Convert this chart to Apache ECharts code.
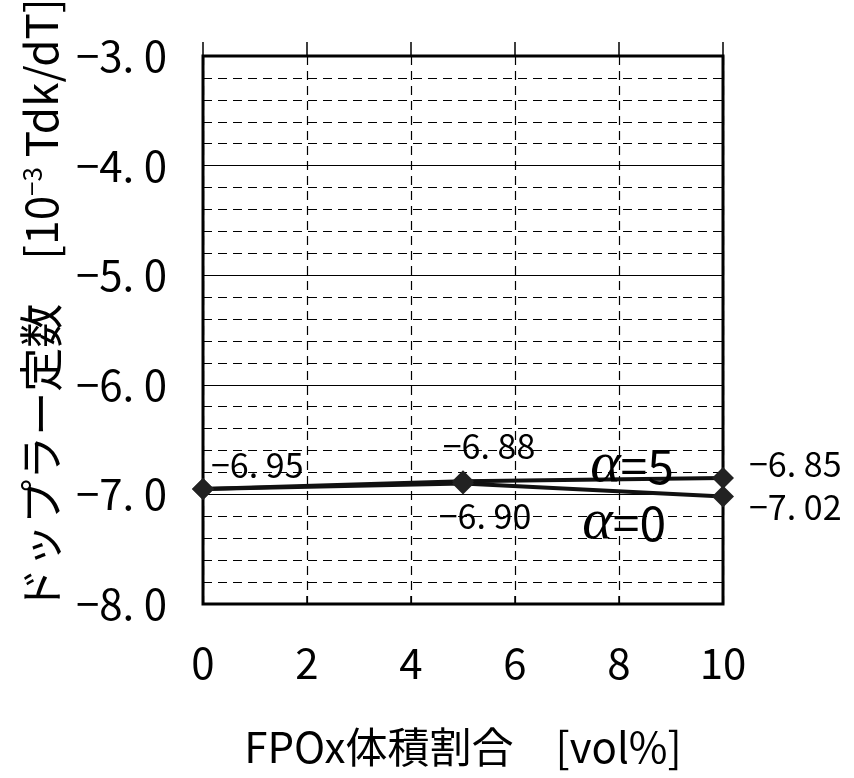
<!DOCTYPE html>
<html>
<head>
<meta charset="utf-8">
<script src="https://cdn.jsdelivr.net/npm/echarts@6/dist/echarts.min.js"></script>
<style>
  html, body { margin: 0; padding: 0; background: #fff; }
  #chart { width: 854px; height: 778px; }
</style>
</head>
<body>
<div id="chart"></div>
<script>
// FPOx volume fraction [vol%]
const fpoxVol = [0, 5, 10];
// Doppler constant [10^-3 Tdk/dT]
const alpha5 = [-6.95, -6.88, -6.85];
const alpha0 = [-6.95, -6.90, -7.02];
const xTicks = [0, 2, 4, 6, 8, 10];
const yRange = [-8, -3];
// where the series tags (α=5 / α=0) sit, in data units
const tagAlpha5 = [8.25, -6.74];
const tagAlpha0 = [8.1, -7.26];

const FONT = '"Noto Sans CJK JP", "Noto Sans", sans-serif';
const fmt1 = v => (v < 0 ? '\u2212' : '') + Math.abs(v).toFixed(1).replace('.', '. ');
const fmt2 = v => (v < 0 ? '\u2212' : '') + Math.abs(v).toFixed(2).replace('.', '. ');

function pts(ys) { return fpoxVol.map((x, i) => [x, ys[i]]); }

const labelStyle = { show: true, color: '#000', fontFamily: FONT, fontSize: 34, formatter: p => fmt2(p.value[1]) };

const a5 = pts(alpha5).map((d, i) => {
  const lab = [
    { position: 'right', offset: [-8, -24] },
    { position: 'top', offset: [26, -2] },
    { position: 'right', offset: [10, -14] }
  ][i];
  return { value: d, label: Object.assign({}, labelStyle, lab) };
});
const a0 = pts(alpha0).map((d, i) => {
  const lab = [
    { show: false },
    { position: 'bottom', offset: [22, 0] },
    { position: 'right', offset: [10, 10] }
  ][i];
  return { value: d, label: Object.assign({}, labelStyle, lab) };
});

function tag(name, at) {
  return {
    symbol: 'circle', symbolSize: 1,
    itemStyle: { color: 'rgba(0,0,0,0)' },
    data: [{ coord: at, value: name }],
    label: {
      show: true, position: 'inside', color: '#000',
      formatter: '{a|\u03b1}{b|=' + name + '}',
      rich: {
        a: { fontFamily: '"Liberation Serif", serif', fontStyle: 'italic', fontSize: 58, color: '#000' },
        b: { fontFamily: FONT, fontSize: 48, color: '#000' }
      }
    }
  };
}

const chart = echarts.init(document.getElementById('chart'), null, { renderer: 'canvas' });
chart.setOption({
  animation: false,
  backgroundColor: '#fff',
  grid: {
    left: 203, right: 131, top: 56, bottom: 174, outerBoundsMode: 'none',
    show: true, borderColor: '#000', borderWidth: 3, backgroundColor: 'transparent'
  },
  xAxis: [{
    type: 'value', min: xTicks[0], max: xTicks[xTicks.length - 1], interval: 2,
    name: 'FPOx体積割合\u3000[vol%]', nameLocation: 'middle', nameGap: 122,
    nameTextStyle: { fontFamily: FONT, fontSize: 42, color: '#000' },
    axisLine: { show: false },
    axisTick: { show: true, inside: true, length: 8, lineStyle: { color: '#000', width: 1.5 } },
    axisLabel: { fontFamily: FONT, fontSize: 42, color: '#000', margin: 38 },
    splitLine: { show: true, lineStyle: { color: '#000', type: [9, 6], width: 1.2 } }
  }, {
    type: 'value', position: 'top', min: xTicks[0], max: xTicks[xTicks.length - 1], interval: 2,
    axisLine: { show: false },
    axisTick: { show: true, inside: false, length: 14, lineStyle: { color: '#000', width: 1.5 } },
    axisLabel: { show: false }, splitLine: { show: false }
  }],
  yAxis: {
    type: 'value', min: yRange[0], max: yRange[1], interval: 1,
    name: '{t|ドップラー定数\u3000[10}{s|−3}{t| Tdk/dT]}', nameLocation: 'middle', nameGap: 140, nameRotate: 90,
    nameTextStyle: {
      padding: [0, 0, 0, 50],
      rich: {
        t: { fontFamily: FONT, fontSize: 44, color: '#000' },
        s: { fontFamily: FONT, fontSize: 26, color: '#000', verticalAlign: 'top', padding: [0, 0, 18, 0] }
      }
    },
    axisLine: { show: false },
    axisTick: { show: false },
    axisLabel: { fontFamily: FONT, fontSize: 42, color: '#000', margin: 36, formatter: fmt1 },
    splitLine: { show: true, lineStyle: { color: '#000', width: 1.2 } },
    minorTick: { show: false, splitNumber: 5 },
    minorSplitLine: { show: true, lineStyle: { color: '#000', type: [9, 6], width: 1.2 } }
  },
  series: [{
    name: 'α=5', type: 'line', data: a5,
    symbol: 'diamond', symbolSize: 22,
    lineStyle: { color: '#111', width: 4 }, itemStyle: { color: '#222' },
    markPoint: tag('5', tagAlpha5), z: 3
  }, {
    name: 'α=0', type: 'line', data: a0,
    symbol: 'diamond', symbolSize: 22,
    lineStyle: { color: '#111', width: 4 }, itemStyle: { color: '#222' },
    markPoint: tag('0', tagAlpha0), z: 3
  }]
});
</script>
</body>
</html>
